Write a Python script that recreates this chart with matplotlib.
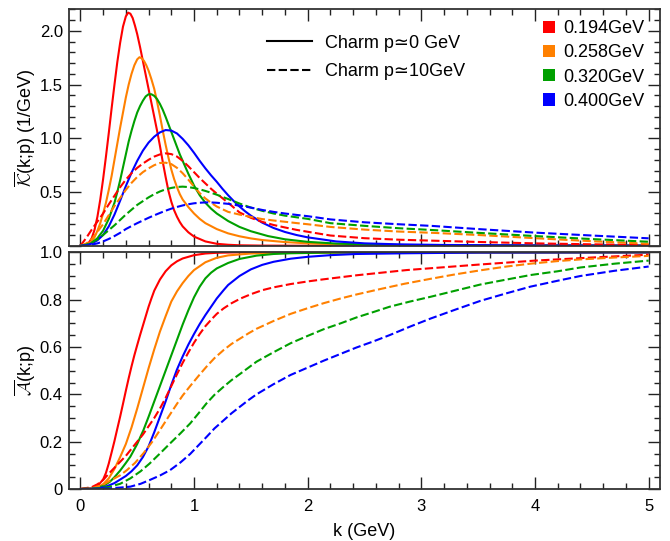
import matplotlib
matplotlib.use('Agg')
import matplotlib.pyplot as plt
from matplotlib.lines import Line2D
from matplotlib.patches import Patch
from matplotlib.ticker import MultipleLocator, FuncFormatter

plt.rcParams['font.family'] = ['Liberation Sans', 'DejaVu Sans']
plt.rcParams['mathtext.fontset'] = 'cm'

temps = ['0.194GeV', '0.258GeV', '0.320GeV', '0.400GeV']
colors = ['#ff0000', '#ff8000', '#00a000', '#0000ff']
style_labels = ['Charm p\u22430 GeV', 'Charm p\u224310GeV']

# ---------------- top panel: K(k;p), p ~ 0 (solid) ----------------
k_Ks_194 = [0, 0.05, 0.075, 0.1, 0.125, 0.15, 0.175, 0.2, 0.225, 0.25, 0.275, 0.3, 0.325, 0.35, 0.375,
            0.4, 0.42, 0.44, 0.46, 0.48, 0.5, 0.525, 0.55, 0.575, 0.6, 0.625, 0.65, 0.675, 0.7, 0.725,
            0.75, 0.775, 0.8, 0.825, 0.85, 0.875, 0.9, 0.95, 1.0, 1.1, 1.2, 1.3, 1.4, 1.6, 2.0, 5.0]
Ks_194 = [0, 0.01, 0.03, 0.07, 0.15, 0.27, 0.43, 0.62, 0.83, 1.05, 1.28, 1.5, 1.71, 1.89, 2.04,
          2.135, 2.17, 2.16, 2.12, 2.05, 1.97, 1.85, 1.72, 1.59, 1.46, 1.33, 1.2, 1.07, 0.93, 0.78,
          0.64, 0.51, 0.41, 0.33, 0.27, 0.22, 0.18, 0.125, 0.085, 0.04, 0.018, 0.009, 0.004, 0.001, 0, 0]

k_Ks_258 = [0, 0.05, 0.1, 0.125, 0.15, 0.175, 0.2, 0.225, 0.25, 0.275, 0.3, 0.325, 0.35, 0.375, 0.4,
            0.425, 0.45, 0.475, 0.5, 0.52, 0.54, 0.56, 0.58, 0.6, 0.625, 0.65, 0.675, 0.7, 0.725, 0.75,
            0.775, 0.8, 0.825, 0.85, 0.875, 0.9, 0.95, 1.0, 1.05, 1.1, 1.2, 1.3, 1.4, 1.5, 1.6, 1.8,
            2.0, 2.25, 2.5, 3.0, 4.0, 5.0]
Ks_258 = [0, 0.005, 0.04, 0.08, 0.14, 0.21, 0.3, 0.4, 0.52, 0.65, 0.8, 0.95, 1.1, 1.24, 1.38,
          1.5, 1.6, 1.68, 1.735, 1.755, 1.745, 1.72, 1.68, 1.63, 1.55, 1.46, 1.34, 1.21, 1.07, 0.94,
          0.82, 0.71, 0.62, 0.545, 0.48, 0.43, 0.36, 0.3, 0.25, 0.21, 0.155, 0.115, 0.088, 0.068, 0.053, 0.034,
          0.022, 0.013, 0.008, 0.003, 0.001, 0]

k_Ks_320 = [0, 0.05, 0.1, 0.15, 0.2, 0.25, 0.3, 0.325, 0.35, 0.375, 0.4, 0.425, 0.45, 0.475, 0.5,
            0.525, 0.55, 0.575, 0.6, 0.625, 0.65, 0.675, 0.7, 0.725, 0.75, 0.775, 0.8, 0.825, 0.85,
            0.875, 0.9, 0.95, 1.0, 1.05, 1.1, 1.15, 1.2, 1.3, 1.4, 1.5, 1.65, 1.8, 2.0, 2.25, 2.5,
            3.0, 4.0, 5.0]
Ks_320 = [0, 0.005, 0.025, 0.07, 0.14, 0.25, 0.4, 0.5, 0.61, 0.73, 0.85, 0.97, 1.07, 1.16, 1.24,
          1.3, 1.35, 1.39, 1.41, 1.41, 1.395, 1.365, 1.32, 1.265, 1.2, 1.13, 1.06, 0.99, 0.92,
          0.85, 0.79, 0.67, 0.56, 0.47, 0.4, 0.345, 0.3, 0.23, 0.175, 0.135, 0.09, 0.06, 0.036, 0.02, 0.012,
          0.004, 0.001, 0]

k_Ks_400 = [0, 0.05, 0.1, 0.15, 0.2, 0.25, 0.3, 0.35, 0.4, 0.45, 0.5, 0.55, 0.6, 0.65, 0.7, 0.75,
            0.8, 0.85, 0.9, 0.95, 1.0, 1.05, 1.1, 1.15, 1.2, 1.25, 1.3, 1.35, 1.4, 1.45, 1.5, 1.6,
            1.7, 1.8, 1.9, 2.0, 2.25, 2.5, 2.8, 3.2, 4.0, 5.0]
Ks_400 = [0, 0.004, 0.02, 0.05, 0.1, 0.18, 0.29, 0.42, 0.555, 0.68, 0.79, 0.885, 0.96, 1.015, 1.055, 1.077,
          1.072, 1.045, 0.995, 0.935, 0.865, 0.79, 0.72, 0.655, 0.595, 0.53, 0.47, 0.415, 0.365, 0.32, 0.28, 0.215,
          0.165, 0.128, 0.1, 0.078, 0.04, 0.022, 0.013, 0.007, 0.003, 0.001]

# ---------------- top panel: K(k;p), p ~ 10 GeV (dashed) ----------------
k_Kd = [0, 0.05, 0.1, 0.15, 0.2, 0.25, 0.3, 0.35, 0.4, 0.45, 0.5, 0.55, 0.6, 0.65, 0.7, 0.75, 0.8,
        0.85, 0.9, 0.95, 1.0, 1.05, 1.1, 1.15, 1.2, 1.3, 1.4, 1.5, 1.6, 1.7, 1.8, 1.9, 2.0, 2.2, 2.5,
        2.8, 3.1, 3.5, 4.0, 4.5, 5.0]
Kd_194 = [0, 0.07, 0.15, 0.225, 0.3, 0.385, 0.465, 0.545, 0.615, 0.675, 0.725, 0.765, 0.8, 0.83, 0.85,
          0.86, 0.853, 0.83, 0.79, 0.74, 0.685, 0.63, 0.58, 0.53, 0.485, 0.4, 0.31, 0.26, 0.222, 0.193,
          0.17, 0.148, 0.13, 0.095, 0.07, 0.056, 0.047, 0.035, 0.022, 0.013, 0.007]
Kd_258 = [0, 0.02, 0.06, 0.13, 0.2, 0.285, 0.37, 0.445, 0.52, 0.585, 0.64, 0.685, 0.72, 0.75, 0.77,
          0.773, 0.76, 0.725, 0.675, 0.615, 0.55, 0.49, 0.44, 0.4, 0.365, 0.315, 0.29, 0.268, 0.248,
          0.235, 0.223, 0.211, 0.2, 0.175, 0.15, 0.132, 0.12, 0.1, 0.07, 0.042, 0.018]
Kd_320 = [0, 0.01, 0.03, 0.06, 0.1, 0.145, 0.19, 0.24, 0.29, 0.335, 0.38, 0.415, 0.45, 0.48, 0.505,
          0.525, 0.538, 0.547, 0.55, 0.546, 0.537, 0.525, 0.51, 0.493, 0.475, 0.435, 0.393, 0.355, 0.325,
          0.3, 0.28, 0.265, 0.25, 0.21, 0.185, 0.163, 0.146, 0.12, 0.09, 0.062, 0.037]
Kd_400 = [0, 0.004, 0.01, 0.022, 0.04, 0.063, 0.09, 0.12, 0.155, 0.183, 0.21, 0.235, 0.26, 0.283, 0.305,
          0.326, 0.345, 0.361, 0.375, 0.386, 0.395, 0.4, 0.403, 0.403, 0.4, 0.39, 0.373, 0.355, 0.333,
          0.315, 0.3, 0.287, 0.275, 0.245, 0.218, 0.2, 0.184, 0.155, 0.122, 0.095, 0.069]

# ---------------- bottom panel: A(k;p), p ~ 0 (solid) ----------------
k_As_194 = [0, 0.1, 0.15, 0.2, 0.225, 0.25, 0.275, 0.3, 0.325, 0.35, 0.375, 0.4, 0.425, 0.45, 0.475,
            0.5, 0.525, 0.55, 0.575, 0.6, 0.625, 0.65, 0.7, 0.75, 0.8, 0.85, 0.9, 1.0, 1.1, 1.2, 1.4, 5.0]
As_194 = [0, 0.003, 0.012, 0.04, 0.068, 0.108, 0.155, 0.203, 0.255, 0.306, 0.36, 0.415, 0.468, 0.518, 0.565,
          0.608, 0.65, 0.69, 0.73, 0.77, 0.805, 0.838, 0.885, 0.92, 0.945, 0.962, 0.974, 0.988, 0.995, 0.998, 1.0, 1.0]

k_As_258 = [0, 0.1, 0.15, 0.2, 0.25, 0.3, 0.35, 0.4, 0.45, 0.5, 0.55, 0.6, 0.65, 0.7, 0.75, 0.8, 0.85,
            0.9, 0.95, 1.0, 1.1, 1.2, 1.3, 1.5, 2.0, 5.0]
As_258 = [0, 0.002, 0.007, 0.02, 0.045, 0.085, 0.135, 0.19, 0.26, 0.34, 0.425, 0.51, 0.59, 0.665, 0.73,
          0.792, 0.835, 0.87, 0.9, 0.925, 0.958, 0.977, 0.987, 0.995, 0.999, 1.0]

k_As_320 = [0, 0.1, 0.2, 0.26, 0.3, 0.35, 0.4, 0.44, 0.5, 0.555, 0.6, 0.65, 0.7, 0.75, 0.8, 0.85, 0.9,
            0.95, 1.0, 1.05, 1.1, 1.15, 1.2, 1.3, 1.4, 1.55, 1.7, 1.85, 2.2, 2.5, 5.0]
As_320 = [0, 0.001, 0.012, 0.031, 0.05, 0.078, 0.11, 0.137, 0.19, 0.249, 0.305, 0.37, 0.435, 0.5, 0.565,
          0.63, 0.695, 0.755, 0.81, 0.855, 0.89, 0.914, 0.932, 0.955, 0.972, 0.986, 0.993, 0.996, 0.999, 1.0, 1.0]

k_As_400 = [0, 0.1, 0.2, 0.26, 0.3, 0.35, 0.4, 0.45, 0.5, 0.55, 0.6, 0.65, 0.7, 0.75, 0.8, 0.85, 0.9,
            0.95, 1.0, 1.05, 1.1, 1.15, 1.2, 1.26, 1.3, 1.4, 1.5, 1.6, 1.7, 1.85, 2.0, 2.2, 2.43, 2.87,
            3.5, 5.0]
As_400 = [0, 0.001, 0.006, 0.017, 0.025, 0.04, 0.055, 0.075, 0.1, 0.135, 0.18, 0.24, 0.305, 0.37, 0.44,
          0.505, 0.56, 0.61, 0.655, 0.697, 0.735, 0.77, 0.805, 0.84, 0.862, 0.9, 0.928, 0.947, 0.96, 0.973,
          0.981, 0.988, 0.993, 0.996, 0.999, 1.0]

# ---------------- bottom panel: A(k;p), p ~ 10 GeV (dashed) ----------------
k_Ad_194 = [0, 0.1, 0.15, 0.2, 0.25, 0.3, 0.35, 0.4, 0.45, 0.5, 0.55, 0.6, 0.65, 0.7, 0.75, 0.8, 0.85,
            0.9, 0.95, 1.0, 1.05, 1.1, 1.15, 1.2, 1.26, 1.33, 1.41, 1.5, 1.6, 1.7, 1.85, 2.0, 2.14, 2.43,
            2.87, 3.5, 4.0, 4.5, 5.0]
Ad_194 = [0, 0.008, 0.02, 0.038, 0.065, 0.09, 0.115, 0.14, 0.17, 0.2, 0.23, 0.265, 0.3, 0.34, 0.385,
          0.435, 0.485, 0.533, 0.577, 0.618, 0.655, 0.688, 0.715, 0.74, 0.763, 0.785, 0.805, 0.823, 0.84,
          0.852, 0.866, 0.877, 0.886, 0.903, 0.925, 0.948, 0.965, 0.978, 0.99]

k_Ad_258 = [0, 0.1, 0.2, 0.26, 0.3, 0.35, 0.41, 0.48, 0.555, 0.63, 0.7, 0.775, 0.85, 0.9, 0.966, 1.04,
            1.11, 1.18, 1.26, 1.33, 1.41, 1.48, 1.55, 1.7, 1.85, 2.0, 2.14, 2.29, 2.43, 2.64, 2.85, 3.08,
            3.3, 3.52, 3.75, 3.96, 4.2, 4.4, 4.7, 5.0]
Ad_258 = [0, 0.003, 0.018, 0.035, 0.045, 0.058, 0.08, 0.11, 0.151, 0.198, 0.249, 0.305, 0.36, 0.395,
          0.435, 0.478, 0.517, 0.553, 0.587, 0.613, 0.637, 0.658, 0.677, 0.71, 0.74, 0.764, 0.785, 0.805,
          0.822, 0.845, 0.867, 0.888, 0.907, 0.924, 0.94, 0.952, 0.963, 0.97, 0.978, 0.985]

k_Ad_320 = [0, 0.2, 0.26, 0.35, 0.44, 0.53, 0.61, 0.7, 0.79, 0.88, 0.966, 1.04, 1.11, 1.18, 1.26, 1.33,
            1.41, 1.48, 1.55, 1.7, 1.85, 2.0, 2.14, 2.29, 2.43, 2.58, 2.72, 2.9, 3.08, 3.3, 3.52, 3.75,
            3.96, 4.2, 4.4, 4.7, 5.0]
Ad_320 = [0, 0.005, 0.01, 0.022, 0.045, 0.075, 0.108, 0.15, 0.193, 0.235, 0.277, 0.32, 0.362, 0.398,
          0.432, 0.46, 0.488, 0.513, 0.538, 0.578, 0.616, 0.647, 0.675, 0.7, 0.725, 0.748, 0.77, 0.792,
          0.812, 0.838, 0.864, 0.885, 0.904, 0.92, 0.936, 0.952, 0.965]

k_Ad_400 = [0, 0.26, 0.35, 0.44, 0.53, 0.61, 0.7, 0.79, 0.88, 0.966, 1.04, 1.11, 1.18, 1.26, 1.33, 1.41,
            1.48, 1.55, 1.7, 1.85, 2.0, 2.14, 2.29, 2.43, 2.58, 2.72, 2.9, 3.08, 3.3, 3.52, 3.75, 3.96,
            4.2, 4.4, 4.7, 5.0]
Ad_400 = [0, 0.003, 0.006, 0.01, 0.022, 0.038, 0.057, 0.08, 0.112, 0.148, 0.185, 0.22, 0.256, 0.29,
          0.32, 0.35, 0.376, 0.4, 0.443, 0.482, 0.513, 0.542, 0.571, 0.598, 0.624, 0.65, 0.686, 0.72,
          0.758, 0.795, 0.827, 0.855, 0.88, 0.9, 0.922, 0.94]

top_solid = [(k_Ks_194, Ks_194), (k_Ks_258, Ks_258), (k_Ks_320, Ks_320), (k_Ks_400, Ks_400)]
top_dashed = [(k_Kd, Kd_194), (k_Kd, Kd_258), (k_Kd, Kd_320), (k_Kd, Kd_400)]
bot_solid = [(k_As_194, As_194), (k_As_258, As_258), (k_As_320, As_320), (k_As_400, As_400)]
bot_dashed = [(k_Ad_194, Ad_194), (k_Ad_258, Ad_258), (k_Ad_320, Ad_320), (k_Ad_400, Ad_400)]

LW = 1.5
DASH = (4, 1.6)

fig = plt.figure(figsize=(6.7, 5.41), dpi=100)
ax1 = fig.add_axes([0.103, 0.5458, 0.8821, 0.4376])
ax2 = fig.add_axes([0.103, 0.0961, 0.8821, 0.4375])

for ax, solid, dashed in ((ax1, top_solid, top_dashed), (ax2, bot_solid, bot_dashed)):
    for (k, v), c in zip(solid, colors):
        ax.plot(k, v, color=c, lw=LW, solid_joinstyle='round')
    for (k, v), c in zip(dashed, colors):
        ax.plot(k, v, color=c, lw=LW, dashes=DASH)

for ax in (ax1, ax2):
    ax.set_xlim(-0.1, 5.1)
    ax.xaxis.set_major_locator(MultipleLocator(1))
    ax.xaxis.set_minor_locator(MultipleLocator(0.2))
    ax.tick_params(which='both', direction='in', top=True, right=True, width=1.0,
                   colors='#222222', labelcolor='black', labelsize=12)
    ax.tick_params(which='major', length=8.5, pad=4.5)
    ax.tick_params(which='minor', length=4.5)
    for s in ax.spines.values():
        s.set_linewidth(1.3)
        s.set_color('#333333')

ax1.set_ylim(0, 2.204)
ax1.yaxis.set_major_locator(MultipleLocator(0.5))
ax1.yaxis.set_minor_locator(MultipleLocator(0.1))
ax1.yaxis.set_major_formatter(FuncFormatter(lambda v, p: '' if abs(v) < 1e-9 else f'{v:.1f}'))
ax1.tick_params(labelbottom=False)

ax2.set_ylim(0, 1.0)
ax2.yaxis.set_major_locator(MultipleLocator(0.2))
ax2.yaxis.set_minor_locator(MultipleLocator(0.05))
ax2.yaxis.set_major_formatter(FuncFormatter(lambda v, p: '0' if abs(v) < 1e-9 else f'{v:.1f}'))
ax2.xaxis.set_major_formatter(FuncFormatter(lambda v, p: f'{v:.0f}'))
ax2.tick_params(axis='x', which='major', pad=7)

ax1.set_ylabel(r'$\overline{\mathcal{K}}$(k;p) (1/GeV)', fontsize=13)
ax2.set_ylabel(r'$\overline{\mathcal{A}}$(k;p)', fontsize=13)
ax1.yaxis.set_label_coords(-0.053, 0.5)
ax2.yaxis.set_label_coords(-0.053, 0.5)
ax2.set_xlabel('k (GeV)', fontsize=13, labelpad=7)

style_handles = [Line2D([], [], color='black', lw=LW),
                 Line2D([], [], color='black', lw=LW, dashes=DASH)]
leg1 = ax1.legend(style_handles, style_labels, loc='upper left', bbox_to_anchor=(0.3345, 0.892),
                  frameon=False, fontsize=13, handlelength=2.5, handletextpad=0.72,
                  labelspacing=0.66, borderpad=0, borderaxespad=0)
ax1.add_artist(leg1)

color_handles = [Patch(facecolor=c, edgecolor='none') for c in colors]
ax1.legend(color_handles, temps, loc='upper left', bbox_to_anchor=(0.802, 0.953),
           frameon=False, fontsize=13, handlelength=0.66, handleheight=0.66, handletextpad=0.44,
           labelspacing=0.40, borderpad=0, borderaxespad=0)

fig.savefig('out.png', dpi=100)
